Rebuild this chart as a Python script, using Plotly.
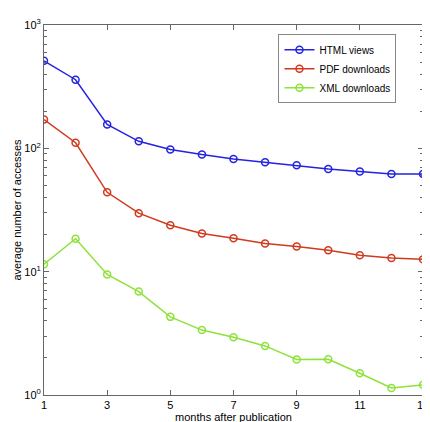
import plotly.graph_objects as go

months = list(range(1, 14))
html_views = [512, 360, 156, 114, 98, 89, 82, 77, 73, 68, 65, 62, 62]
pdf_downloads = [171, 111, 44, 29.8, 23.8, 20.4, 18.7, 16.9, 16.0, 14.9, 13.6, 12.9, 12.6]
xml_downloads = [11.5, 18.5, 9.5, 6.9, 4.3, 3.36, 2.94, 2.50, 1.94, 1.95, 1.50, 1.14, 1.21]

x_ticks = [1, 3, 5, 7, 9, 11, 13]
y_major = [1, 10, 100, 1000]
y_major_text = ["10<sup>0</sup>", "10<sup>1</sup>", "10<sup>2</sup>", "10<sup>3</sup>"]
y_minor = [m * 10 ** e for e in range(0, 3) for m in range(2, 10)]

series = [
    ("HTML views", html_views, "#2323e0"),
    ("PDF downloads", pdf_downloads, "#d03a1e"),
    ("XML downloads", xml_downloads, "#8ee23a"),
]

fig = go.Figure()
for name, vals, col in series:
    fig.add_trace(go.Scatter(
        x=months, y=vals, name=name, mode="lines+markers",
        line=dict(color=col, width=1.5),
        marker=dict(symbol="circle-open", size=7, color=col, line=dict(width=1.5, color=col)),
    ))

axis_common = dict(
    showgrid=False, zeroline=False, showline=True, linecolor="#666", linewidth=1,
    mirror="ticks", ticks="inside", tickcolor="#666", ticklen=5,
    tickfont=dict(family="Liberation Sans, Arial, sans-serif", size=11, color="black"),
)

fig.update_layout(
    width=430, height=422,
    margin=dict(l=32, r=9, t=10, b=28),
    paper_bgcolor="white", plot_bgcolor="white",
    font=dict(family="Liberation Sans, Arial, sans-serif", size=11, color="black"),
    showlegend=True,
    legend=dict(
        x=0.93, y=0.975, xanchor="right", yanchor="top",
        bgcolor="white", bordercolor="#888", borderwidth=1,
        font=dict(size=10), itemwidth=30, tracegroupgap=0,
    ),
    xaxis=dict(
        range=[1, 13], tickvals=x_ticks,
        title=dict(text="months after publication", standoff=2, font=dict(size=11)),
        **axis_common,
    ),
    yaxis=dict(
        type="log", range=[0, 3], tickvals=y_major, ticktext=y_major_text,
        minor=dict(tickvals=y_minor, ticks="inside", ticklen=3, tickcolor="#666", showgrid=False),
        title=dict(text="average number of accesses", standoff=0, font=dict(size=11)),
        **axis_common,
    ),
)

fig.write_html("out.html")
